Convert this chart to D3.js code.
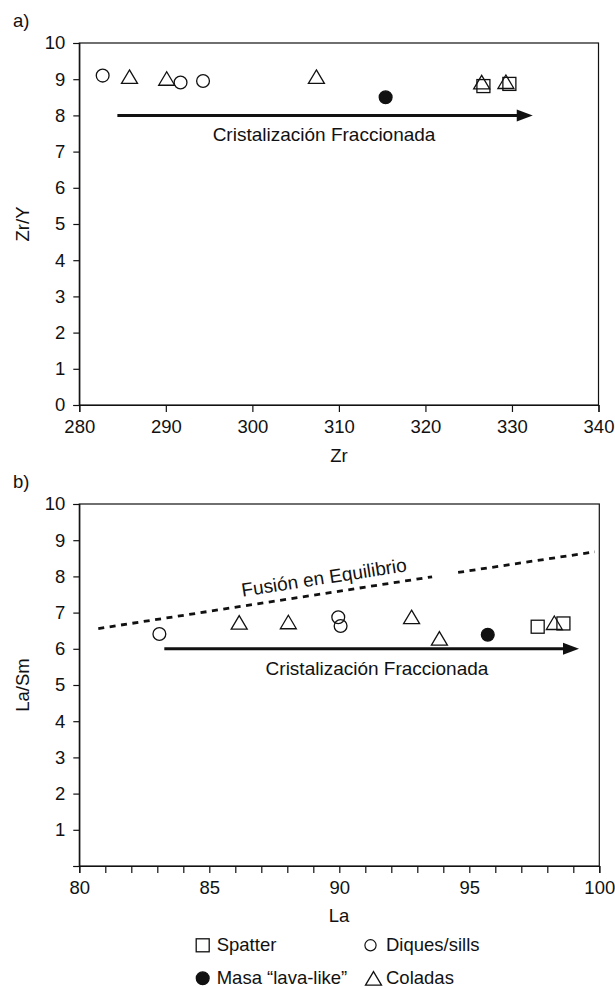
<!DOCTYPE html>
<html>
<head>
<meta charset="utf-8">
<script src="https://cdn.jsdelivr.net/npm/d3@7"></script>
<style>
  body { margin: 0; background: #fff; }
  text { font-family: "Liberation Sans", Arial, Helvetica, sans-serif; fill: #111; }
</style>
</head>
<body>
<svg id="chart" width="615" height="988"></svg>
<script>
// ---- Panel a: Zr vs Zr/Y ----
const zrSpatter  = [[326.7, 8.81], [329.7, 8.87]];
const zrDiques   = [[282.7, 9.10], [291.7, 8.91], [294.3, 8.95]];
const zrMasa     = [[315.4, 8.50]];
const zrColadas  = [[285.8, 9.07], [290.1, 9.02], [307.4, 9.07], [326.5, 8.92], [329.3, 8.93]];
const zrArrow    = [[284.4, 8.0], [332.4, 8.0]];
const zrTicksX   = [280, 290, 300, 310, 320, 330, 340];
const zrTicksY   = [0, 1, 2, 3, 4, 5, 6, 7, 8, 9, 10];

// ---- Panel b: La vs La/Sm ----
const laSpatter  = [[97.63, 6.61], [98.62, 6.70]];
const laDiques   = [[83.08, 6.41], [89.96, 6.87], [90.05, 6.63]];
const laMasa     = [[95.71, 6.39]];
const laColadas  = [[86.15, 6.73], [88.04, 6.74], [92.78, 6.88], [93.85, 6.29], [98.27, 6.72]];
const laArrow    = [[83.27, 6.0], [99.22, 6.0]];
const fusionSegA = [[80.73, 6.56], [93.57, 7.99]];
const fusionSegB = [[94.57, 8.11], [99.83, 8.68]];
const laTicksX   = d3.range(80, 101, 1);
const laLabelsX  = [80, 85, 90, 95, 100];
const laTicksY   = [0, 1, 2, 3, 4, 5, 6, 7, 8, 9, 10];

const svg = d3.select("#chart");
const INK = "#111";
const FS = 18.5;

const symSize = {
  square: 13,
  circle: 6.4,
  tri: [16, 13.5]
};

function drawMarkers(g, x, y, data, kind) {
  const sel = g.selectAll(null).data(data).enter();
  if (kind === "square") {
    sel.append("rect")
      .attr("x", d => x(d[0]) - symSize.square / 2)
      .attr("y", d => y(d[1]) - symSize.square / 2)
      .attr("width", symSize.square).attr("height", symSize.square)
      .attr("fill", "none").attr("stroke", INK).attr("stroke-width", 1.3);
  } else if (kind === "circle" || kind === "dot") {
    sel.append("circle")
      .attr("cx", d => x(d[0])).attr("cy", d => y(d[1]))
      .attr("r", symSize.circle)
      .attr("fill", kind === "dot" ? INK : "none")
      .attr("stroke", INK).attr("stroke-width", 1.3);
  } else if (kind === "tri") {
    const [w, h] = symSize.tri;
    sel.append("path")
      .attr("d", d => {
        const cx = x(d[0]), cy = y(d[1]);
        return `M${cx},${cy - h / 2}L${cx + w / 2},${cy + h / 2}L${cx - w / 2},${cy + h / 2}Z`;
      })
      .attr("fill", "none").attr("stroke", INK).attr("stroke-width", 1.3)
      .attr("stroke-linejoin", "miter");
  }
}

function drawArrow(g, x, y, pts) {
  const x0 = x(pts[0][0]), x1 = x(pts[1][0]), yy = y(pts[0][1]);
  const headLen = 16, headH = 6;
  g.append("line")
    .attr("x1", x0).attr("x2", x1 - headLen + 1)
    .attr("y1", yy).attr("y2", yy)
    .attr("stroke", INK).attr("stroke-width", 3);
  g.append("path")
    .attr("d", `M${x1},${yy}L${x1 - headLen},${yy - headH}L${x1 - headLen},${yy + headH}Z`)
    .attr("fill", INK);
}

function styleAxis(g) {
  g.selectAll("path.domain").attr("stroke", INK).attr("stroke-width", 1.2);
  g.selectAll(".tick line").attr("stroke", INK).attr("stroke-width", 1.2);
  g.selectAll(".tick text").attr("font-size", FS).attr("fill", INK)
    .attr("font-family", '"Liberation Sans", Arial, sans-serif');
}

function panel(opts) {
  const { left, right, top, bottom, xDomain, xTicks, xLabels, yTicks, yLabelFilter } = opts;
  const x = d3.scaleLinear().domain(xDomain).range([left, right]);
  const y = d3.scaleLinear().domain([0, 10]).range([bottom, top]);
  const g = svg.append("g");

  // frame
  g.append("rect")
    .attr("x", left).attr("y", top)
    .attr("width", right - left).attr("height", bottom - top)
    .attr("fill", "none").attr("stroke", INK).attr("stroke-width", 1.2);

  const gx = g.append("g").attr("transform", `translate(0,${bottom})`)
    .call(d3.axisBottom(x).tickValues(xTicks).tickSize(7).tickPadding(8)
      .tickFormat(v => xLabels.includes(v) ? d3.format("d")(v) : ""));
  styleAxis(gx);

  const gy = g.append("g").attr("transform", `translate(${left},0)`)
    .call(d3.axisLeft(y).tickValues(yTicks).tickSize(6).tickPadding(8)
      .tickFormat(v => yLabelFilter(v) ? d3.format("d")(v) : ""));
  styleAxis(gy);

  return { g, x, y };
}

// ---------- Panel a ----------
const A = panel({
  left: 79.3, right: 598.5, top: 43, bottom: 405,
  xDomain: [280, 340], xTicks: zrTicksX, xLabels: zrTicksX,
  yTicks: zrTicksY, yLabelFilter: () => true
});

drawArrow(A.g, A.x, A.y, zrArrow);
A.g.append("text")
  .attr("x", (A.x(zrArrow[0][0]) + A.x(zrArrow[1][0])) / 2 - 1)
  .attr("y", A.y(zrArrow[0][1]) + 26)
  .attr("text-anchor", "middle").attr("font-size", 19)
  .text("Cristalización Fraccionada");

drawMarkers(A.g, A.x, A.y, zrSpatter, "square");
drawMarkers(A.g, A.x, A.y, zrDiques, "circle");
drawMarkers(A.g, A.x, A.y, zrColadas, "tri");
drawMarkers(A.g, A.x, A.y, zrMasa, "dot");

svg.append("text").attr("x", 13).attr("y", 27).attr("font-size", FS).text("a)");
svg.append("text").attr("x", 339).attr("y", 462)
  .attr("text-anchor", "middle").attr("font-size", FS).text("Zr");
svg.append("text")
  .attr("transform", `translate(29,${(43 + 405) / 2}) rotate(-90)`)
  .attr("text-anchor", "middle").attr("font-size", FS).text("Zr/Y");

// ---------- Panel b ----------
const B = panel({
  left: 79.3, right: 599.3, top: 504, bottom: 866,
  xDomain: [80, 100], xTicks: laTicksX, xLabels: laLabelsX,
  yTicks: laTicksY, yLabelFilter: v => v > 0
});

// equilibrium melting trend
const fusionLine = d3.line().x(d => B.x(d[0])).y(d => B.y(d[1]));
[fusionSegA, fusionSegB].forEach(seg => {
  B.g.append("path")
    .attr("d", fusionLine(seg))
    .attr("fill", "none").attr("stroke", INK)
    .attr("stroke-width", 2.8).attr("stroke-dasharray", "6,5.5");
});
{
  const p0 = [B.x(fusionSegA[0][0]), B.y(fusionSegA[0][1])];
  const p1 = [B.x(fusionSegB[1][0]), B.y(fusionSegB[1][1])];
  const ang = Math.atan2(p1[1] - p0[1], p1[0] - p0[0]) * 180 / Math.PI;
  B.g.append("text")
    .attr("transform", `translate(325,584) rotate(${ang})`)
    .attr("text-anchor", "middle").attr("font-size", 19)
    .text("Fusión en Equilibrio");
}

drawArrow(B.g, B.x, B.y, laArrow);
B.g.append("text")
  .attr("x", 377).attr("y", B.y(laArrow[0][1]) + 26)
  .attr("text-anchor", "middle").attr("font-size", 19)
  .text("Cristalización Fraccionada");

drawMarkers(B.g, B.x, B.y, laSpatter, "square");
drawMarkers(B.g, B.x, B.y, laDiques, "circle");
drawMarkers(B.g, B.x, B.y, laColadas, "tri");
drawMarkers(B.g, B.x, B.y, laMasa, "dot");

svg.append("text").attr("x", 13).attr("y", 488).attr("font-size", FS).text("b)");
svg.append("text").attr("x", 339).attr("y", 922)
  .attr("text-anchor", "middle").attr("font-size", FS).text("La");
svg.append("text")
  .attr("transform", `translate(29,${(504 + 866) / 2}) rotate(-90)`)
  .attr("text-anchor", "middle").attr("font-size", FS).text("La/Sm");

// ---------- Legend ----------
const legendItems = [
  { kind: "square", label: "Spatter",              cx: 202.7, cy: 945.3 },
  { kind: "circle", label: "Diques/sills",         cx: 370.5, cy: 945.3 },
  { kind: "dot",    label: "Masa \u201Clava-like\u201D", cx: 202.7, cy: 978.3 },
  { kind: "tri",    label: "Coladas",              cx: 373.5, cy: 978.3 }
];
const lg = svg.append("g");
legendItems.forEach(it => {
  const ident = d3.scaleLinear().domain([0, 1]).range([0, 1]);
  const g = lg.append("g");
  if (it.kind === "circle") {
    g.append("circle").attr("cx", it.cx).attr("cy", it.cy).attr("r", 5.6)
      .attr("fill", "none").attr("stroke", INK).attr("stroke-width", 1.2);
  } else {
    drawMarkers(g, ident, ident, [[it.cx, it.cy]], it.kind);
  }
  g.append("text")
    .attr("x", it.kind === "square" || it.kind === "dot" ? 216.7 : 386)
    .attr("y", it.cy + 6).attr("font-size", FS)
    .text(it.label);
});
</script>
</body>
</html>
